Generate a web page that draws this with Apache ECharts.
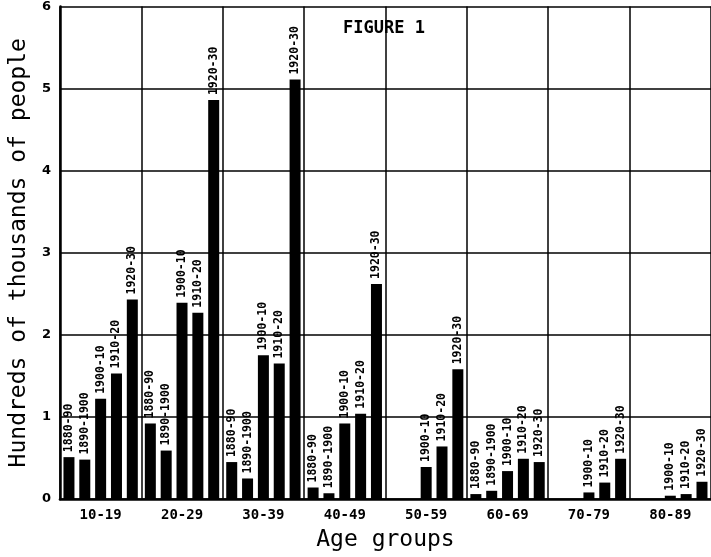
<!DOCTYPE html>
<html>
<head>
<meta charset="utf-8">
<script src="https://cdn.jsdelivr.net/npm/echarts@6/dist/echarts.min.js"></script>
<style>html,body{margin:0;padding:0;background:#fff}#c{width:711px;height:557px}</style>
</head>
<body>
<div id="c"></div>
<script>
var categories = ['10-19', '20-29', '30-39', '40-49', '50-59', '60-69', '70-79', '80-89'];
var periods = ['1880-90', '1890-1900', '1900-10', '1910-20', '1920-30'];
var s1880_90   = [0.51, 0.92, 0.45, 0.14, null, 0.06, null, null];
var s1890_1900 = [0.48, 0.59, 0.25, 0.07, null, 0.10, null, null];
var s1900_10   = [1.22, 2.39, 1.75, 0.92, 0.39, 0.34, 0.08, 0.04];
var s1910_20   = [1.53, 2.27, 1.65, 1.04, 0.64, 0.49, 0.20, 0.06];
var s1920_30   = [2.43, 4.86, 5.11, 2.62, 1.58, 0.45, 0.49, 0.21];
var yTicks = [0, 1, 2, 3, 4, 5, 6];

var seriesValues = [s1880_90, s1890_1900, s1900_10, s1910_20, s1920_30];
var mono = '"DejaVu Sans Mono", monospace';

var chart = echarts.init(document.getElementById('c'), null, {renderer: 'canvas'});
chart.setOption({
  backgroundColor: '#fff',
  animation: false,
  title: {
    text: 'FIGURE 1', left: 338, top: 15,
    textStyle: {fontFamily: mono, fontSize: 17, fontWeight: 'bold', color: '#000'}
  },
  grid: {left: 57, top: 6, width: 662, height: 495, containLabel: false},
  xAxis: {
    type: 'category', data: categories,
    name: 'Age groups', nameLocation: 'middle', nameGap: 30,
    nameTextStyle: {fontFamily: mono, fontSize: 23, color: '#000'},
    axisLine: {lineStyle: {color: '#000', width: 2.5}},
    axisTick: {show: false},
    axisLabel: {fontFamily: mono, fontSize: 14, fontWeight: 'bold', color: '#000', margin: 9},
    splitLine: {show: true, lineStyle: {color: '#000', width: 1.5}}
  },
  yAxis: {
    type: 'value', min: yTicks[0], max: yTicks[yTicks.length - 1], interval: 1,
    name: 'Hundreds of thousands of people', nameLocation: 'middle', nameGap: 26,
    nameTextStyle: {fontFamily: mono, fontSize: 23, color: '#000'},
    axisLine: {show: true, lineStyle: {color: '#000', width: 2.5}},
    axisTick: {show: false},
    axisLabel: {fontFamily: '"DejaVu Sans", sans-serif', fontSize: 13, fontWeight: 'bold', color: '#000', margin: 9},
    splitLine: {show: true, lineStyle: {color: '#000', width: 1.5}}
  },
  series: periods.map(function (p, i) {
    return {
      name: p, type: 'bar', data: seriesValues[i],
      barWidth: 11, barGap: '44%',
      itemStyle: {color: '#000'},
      label: {
        show: true, position: 'top', rotate: 90, align: 'left', verticalAlign: 'middle',
        distance: 5, formatter: '{a}',
        fontFamily: mono, fontSize: 11.5, fontWeight: 'bold', color: '#000'
      }
    };
  })
});
</script>
</body>
</html>
